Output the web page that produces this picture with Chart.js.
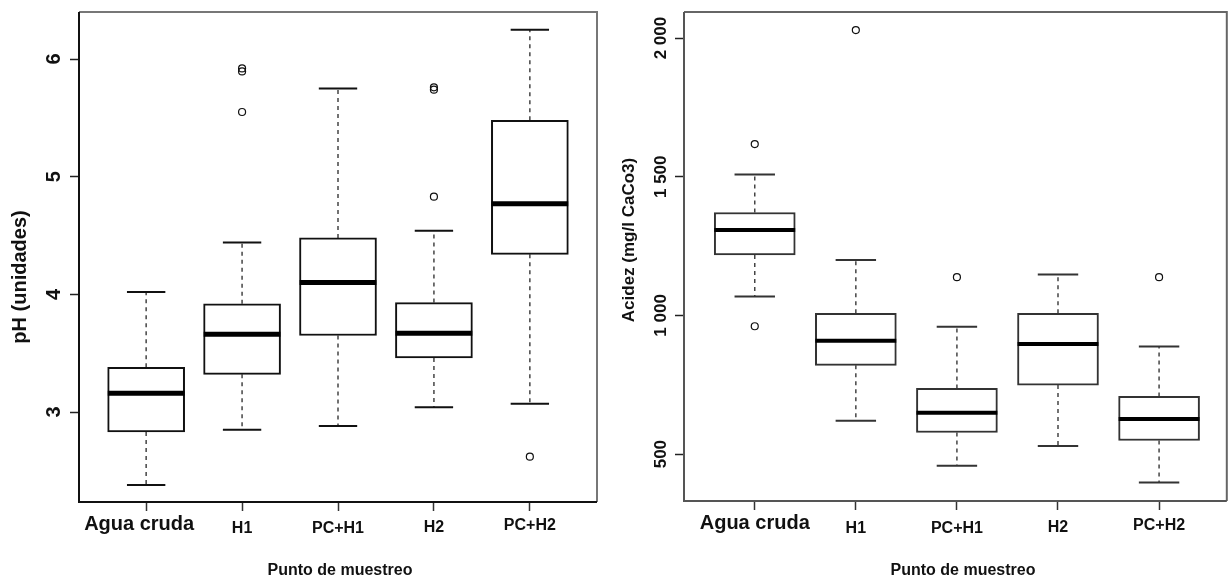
<!DOCTYPE html>
<html>
<head>
<meta charset="utf-8">
<script src="https://cdn.jsdelivr.net/npm/chart.js@4.4.1/dist/chart.umd.min.js"></script>
<style>
  html, body { margin: 0; padding: 0; background: #fff; }
  #wrap { position: relative; width: 1232px; height: 578px; }
  canvas { position: absolute; top: 0; }
  #chartPH { left: 0; }
  #chartAcid { left: 616px; }
</style>
</head>
<body>
<div id="wrap">
  <canvas id="chartPH" width="616" height="578"></canvas>
  <canvas id="chartAcid" width="616" height="578"></canvas>
</div>
<script>
// sampling points, same for both panels
const categories = ['Agua cruda', 'H1', 'PC+H1', 'H2', 'PC+H2'];

// pH (left panel): whisker ends, quartiles, median, outliers
const phLow  = [2.38, 2.85, 2.88, 3.04, 3.07];
const phQ1   = [2.83, 3.32, 3.65, 3.46, 4.34];
const phMed  = [3.16, 3.66, 4.10, 3.67, 4.77];
const phQ3   = [3.38, 3.92, 4.48, 3.93, 5.48];
const phHigh = [4.02, 4.44, 5.75, 4.54, 6.25];
const phOut  = [[], [5.92, 5.895, 5.55], [], [5.76, 5.74, 4.83], [2.62]];
const phTicks = [3, 4, 5, 6];
const phTickLabels = ['3', '4', '5', '6'];

// acidez (right panel)
const acLow  = [1068, 620, 458, 529, 398];
const acQ1   = [1218, 820, 578, 749, 549];
const acMed  = [1308, 909, 649, 897, 627];
const acQ3   = [1371, 1008, 737, 1008, 708];
const acHigh = [1508, 1200, 959, 1148, 888];
const acOut  = [[1618, 961], [2029], [1138], [], [1138]];
const acTicks = [500, 1000, 1500, 2000];
const acTickLabels = ['500', '1 000', '1 500', '2 000'];

const FONT = '"Liberation Sans", Arial, sans-serif';

// draws the R-style frame and all the text around the plot
const rAxes = {
  id: 'rAxes',
  afterDraw(chart, args, o) {
    const ctx = chart.ctx, a = chart.chartArea;
    const xs = chart.scales.x, ys = chart.scales.y;
    ctx.save();
    ctx.lineWidth = 2;
    ctx.strokeStyle = o.frameColor;
    ctx.beginPath();
    ctx.moveTo(a.left, a.top); ctx.lineTo(a.right, a.top); ctx.lineTo(a.right, a.bottom);
    ctx.stroke();
    ctx.strokeStyle = o.axisColor;
    ctx.beginPath();
    ctx.moveTo(a.right, a.bottom); ctx.lineTo(a.left, a.bottom); ctx.lineTo(a.left, a.top);
    ctx.stroke();

    ctx.fillStyle = '#111';
    ctx.textAlign = 'center';
    ctx.textBaseline = 'middle';
    ctx.font = 'bold ' + o.yTickSize + 'px ' + FONT;
    o.yTicks.forEach((v, i) => {
      ctx.save();
      ctx.translate(o.yTickX, ys.getPixelForValue(v));
      ctx.rotate(-Math.PI / 2);
      ctx.fillText(o.yTickLabels[i], 0, 0);
      ctx.restore();
    });

    ctx.save();
    ctx.font = 'bold ' + o.yTitleSize + 'px ' + FONT;
    ctx.translate(o.yTitleX, o.yTitleY);
    ctx.rotate(-Math.PI / 2);
    ctx.fillText(o.yTitle, 0, 0);
    ctx.restore();

    ctx.textBaseline = 'alphabetic';
    categories.forEach((c, i) => {
      ctx.font = 'bold ' + (i === 0 ? o.firstSize : o.xTickSize) + 'px ' + FONT;
      ctx.fillText(c, xs.getPixelForValue(i + 1) + (i === 0 ? o.firstShift : 0), o.xBaselines[i]);
    });
    ctx.font = 'bold 16px ' + FONT;
    ctx.fillText('Punto de muestreo', o.xTitleX, 575);
    ctx.restore();
  }
};

function boxChart(id, s, o) {
  const pos = categories.map((c, i) => i + 1);
  const boxes = [], whisk = [], caps = [], meds = [], outs = [];
  pos.forEach((x, i) => {
    boxes.push({x: x, y: [s.q1[i], s.q3[i]]});
    whisk.push({x: x, y: s.q3[i]}, {x: x, y: s.hi[i]}, {x: x, y: null},
               {x: x, y: s.q1[i]}, {x: x, y: s.lo[i]}, {x: x, y: null});
    caps.push({x: x - 0.2, y: s.hi[i]}, {x: x + 0.2, y: s.hi[i]}, {x: x, y: null},
              {x: x - 0.2, y: s.lo[i]}, {x: x + 0.2, y: s.lo[i]}, {x: x, y: null});
    meds.push({x: x - 0.4, y: s.med[i]}, {x: x + 0.4, y: s.med[i]}, {x: x, y: null});
    s.out[i].forEach(v => outs.push({x: x, y: v}));
  });

  const lineBase = {type: 'line', pointRadius: 0, fill: false, tension: 0, spanGaps: false, borderCapStyle: 'butt'};

  return new Chart(document.getElementById(id), {
    type: 'bar',
    data: {
      datasets: [
        {label: 'caja', data: boxes, backgroundColor: '#fff', borderColor: o.boxColor,
         borderWidth: 2, borderSkipped: false, barThickness: o.boxWidth, grouped: false, order: 3},
        Object.assign({label: 'bigotes', data: whisk, borderColor: '#444', borderWidth: 1.5,
         borderDash: [4, 4], order: 4}, lineBase),
        Object.assign({label: 'topes', data: caps, borderColor: o.boxColor, borderWidth: 2, order: 2}, lineBase),
        Object.assign({label: 'mediana', data: meds, borderColor: '#000', borderWidth: o.medWidth, order: 1}, lineBase),
        {type: 'scatter', label: 'atipicos', data: outs, pointStyle: 'circle', pointRadius: 3.5,
         pointBorderWidth: 1.2, pointBorderColor: '#111', pointBackgroundColor: 'rgba(0,0,0,0)', order: 0}
      ]
    },
    options: {
      responsive: false,
      animation: false,
      layout: {padding: {left: 0, top: 12, right: o.padRight, bottom: 0}},
      plugins: {
        legend: {display: false},
        tooltip: {enabled: false},
        rAxes: o
      },
      scales: {
        x: {
          type: 'linear', min: 0.3, max: o.xMax, offset: false,
          afterBuildTicks: sc => { sc.ticks = pos.map(v => ({value: v})); },
          afterFit: sc => { sc.height = o.xAxisH; },
          ticks: {display: false},
          grid: {offset: false, drawOnChartArea: false, tickLength: 9, tickColor: '#333', tickWidth: 1.5},
          border: {display: false}
        },
        y: {
          type: 'linear', min: o.yMin, max: o.yMax, beginAtZero: false,
          afterBuildTicks: sc => { sc.ticks = o.yTicks.map(v => ({value: v})); },
          afterFit: sc => { sc.width = o.yAxisW; },
          ticks: {display: false},
          grid: {drawOnChartArea: false, tickLength: 9, tickColor: '#222', tickWidth: 1.5},
          border: {display: false}
        }
      }
    },
    plugins: [rAxes]
  });
}

boxChart('chartPH',
  {lo: phLow, q1: phQ1, med: phMed, q3: phQ3, hi: phHigh, out: phOut},
  {yMin: 2.235, yMax: 6.4, xMax: 5.7, yAxisW: 79, xAxisH: 76, padRight: 19,
   boxWidth: 77, boxColor: '#111', medWidth: 5,
   frameColor: '#777', axisColor: '#111',
   yTicks: phTicks, yTickLabels: phTickLabels, yTickSize: 20, yTickX: 54,
   yTitle: 'pH (unidades)', yTitleSize: 20, yTitleX: 20, yTitleY: 277,
   firstSize: 20, firstShift: -7, xTickSize: 16, xBaselines: [530, 533, 533, 532, 530],
   xTitleX: 340});

boxChart('chartAcid',
  {lo: acLow, q1: acQ1, med: acMed, q3: acQ3, hi: acHigh, out: acOut},
  {yMin: 331, yMax: 2094, xMax: 5.67, yAxisW: 68, xAxisH: 77, padRight: 2,
   boxWidth: 81, boxColor: '#333', medWidth: 4,
   frameColor: '#666', axisColor: '#555',
   yTicks: acTicks, yTickLabels: acTickLabels, yTickSize: 17, yTickX: 45,
   yTitle: 'Acidez (mg/l CaCo3)', yTitleSize: 17, yTitleX: 13, yTitleY: 240,
   firstSize: 20, firstShift: 0, xTickSize: 16, xBaselines: [529, 533, 533, 532, 530],
   xTitleX: 347});
</script>
</body>
</html>
